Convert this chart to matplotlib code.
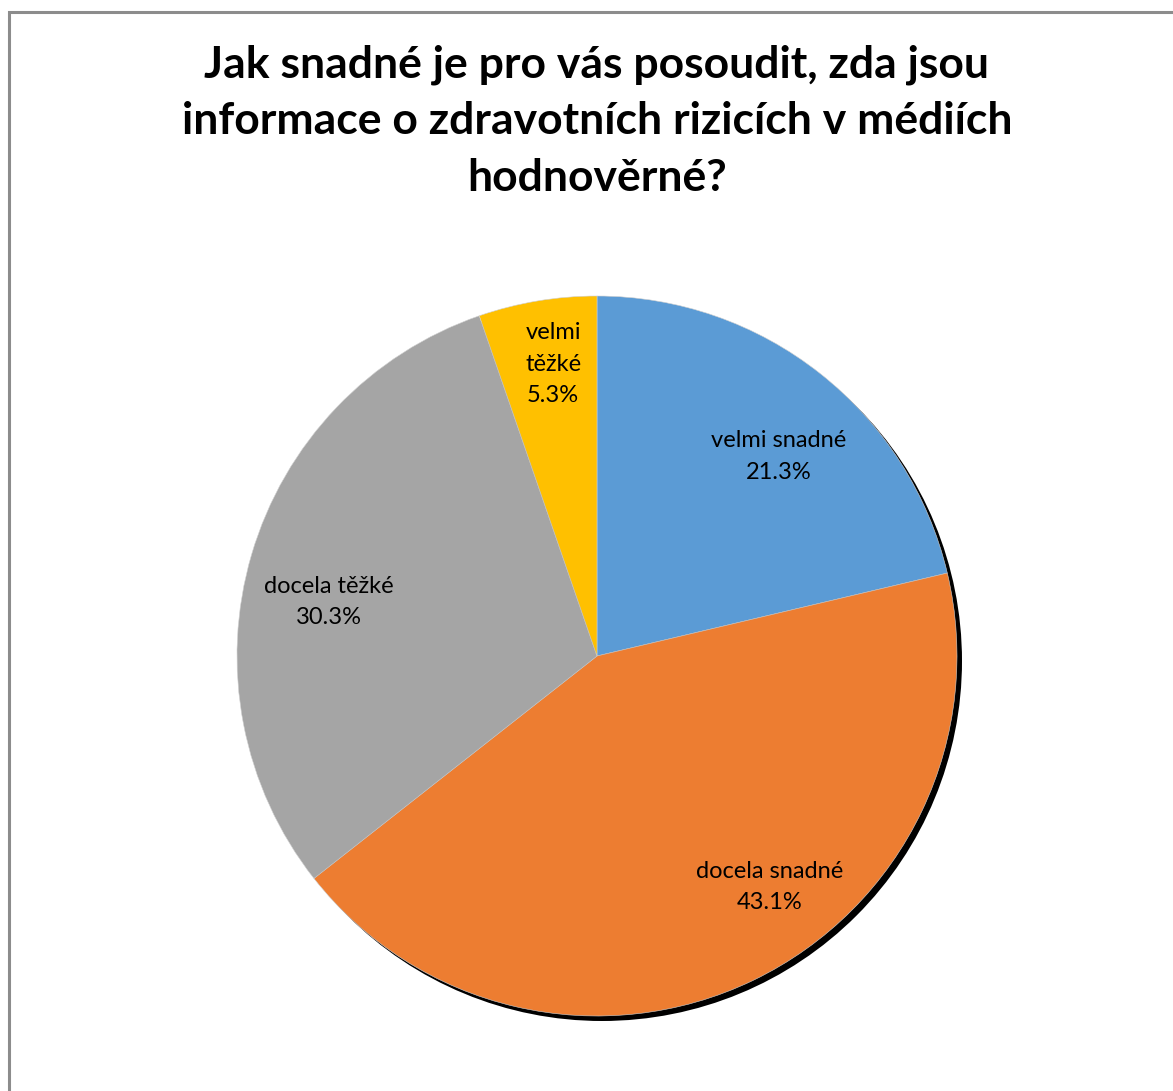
import numpy as np
import matplotlib.pyplot as plt
from matplotlib.patches import Circle, Rectangle

# survey answers, clockwise from 12 o'clock
categories = ["velmi snadné", "docela snadné", "docela těžké", "velmi\ntěžké"]
shares = [21.3, 43.1, 30.3, 5.3]
colors = ["#5B9BD5", "#ED7D31", "#A5A5A5", "#FFC000"]
title = "Jak snadné je pro vás posoudit, zda jsou\ninformace o zdravotních rizicích v médiích\nhodnověrné?"

W, H = 1173, 1091
plt.rcParams['font.family'] = ['Lato', 'DejaVu Sans']

fig = plt.figure(figsize=(W / 100, H / 100), dpi=100)
ax = fig.add_axes([0, 0, 1, 1])

# chart frame (runs off the right and bottom edge)
ax.add_patch(Rectangle((9, -20), W + 40, H - 12 + 20, fill=False,
                       edgecolor="#8c8c8c", linewidth=2.2))

cx, cy, r = 597, H - 656, 360

# drop shadow under the pie
ax.add_patch(Circle((cx + 5, cy - 5), r, facecolor="black", edgecolor="none", zorder=1))

wedges, _ = ax.pie(shares, colors=colors, startangle=90, counterclock=False,
                   center=(cx, cy), radius=r, frame=True,
                   wedgeprops=dict(linewidth=0.4, edgecolor="#d0d0d0"))
for w in wedges:
    w.set_zorder(2)
ax.set_xlim(0, W)
ax.set_ylim(0, H)
ax.set_aspect('equal')
ax.axis('off')

# label placement: (angle offset in degrees, radius fraction)
label_adjust = [(-4, 0.75), (11, 0.80), (5, 0.76), (-1, 0.82)]
for w, cat, val, (da, rf) in zip(wedges, categories, shares, label_adjust):
    ang = np.deg2rad((w.theta1 + w.theta2) / 2 + da)
    x = cx + rf * r * np.cos(ang)
    y = cy + rf * r * np.sin(ang)
    ax.text(x, y, f"{cat}\n{val:.1f}%", ha="center", va="center",
            fontsize=17, linespacing=1.6, color="black", zorder=3)

fig.text(597 / W, 1 - 121 / H, title, ha="center", va="center",
         fontsize=32, fontweight="bold", linespacing=1.5)

fig.savefig("out.png", dpi=100, facecolor="white")
